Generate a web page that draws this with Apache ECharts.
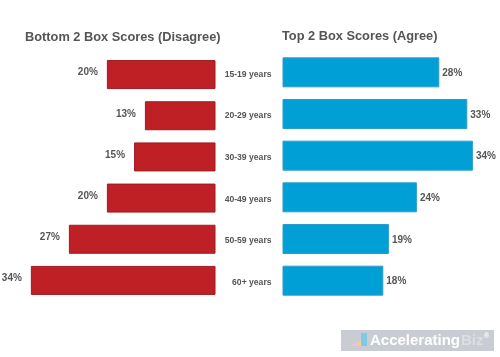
<!DOCTYPE html>
<html>
<head>
<meta charset="utf-8">
<style>
  html, body { margin: 0; padding: 0; background: #fff; }
  #chart { width: 500px; height: 357px; }
</style>
<script src="https://cdn.jsdelivr.net/npm/echarts@6/dist/echarts.min.js"></script>
</head>
<body>
<div id="chart"></div>
<script>
const ageGroups = ['15-19 years', '20-29 years', '30-39 years', '40-49 years', '50-59 years', '60+ years']
const disagree = [20, 13, 15, 20, 27, 34]
const agree = [28, 33, 34, 24, 19, 18]

const font = '"Liberation Sans", Arial, sans-serif'
const textColor = '#555'

const chart = echarts.init(document.getElementById('chart'))

const percentLabel = function (params) {
  return params.value + '%'
}

chart.setOption({
  animation: false,
  backgroundColor: '#fff',
  textStyle: { fontFamily: font },
  title: [
    {
      text: 'Bottom 2 Box Scores (Disagree)',
      left: 20, top: 26,
      textStyle: { fontSize: 12.8, fontWeight: 'bold', color: textColor, fontFamily: font }
    },
    {
      text: 'Top 2 Box Scores (Agree)',
      left: 277, top: 25,
      textStyle: { fontSize: 12.8, fontWeight: 'bold', color: textColor, fontFamily: font }
    }
  ],
  grid: [
    { left: 20, top: 54, width: 195.5, height: 247 },
    { left: 282.5, top: 51.5, width: 201.6, height: 250 },
    // the age labels sit a little lower than the blue bars, so they get their own grid
    { left: 282.5, top: 53.5, width: 201.6, height: 250 }
  ],
  xAxis: [
    { gridIndex: 0, type: 'value', min: 0, max: 36, inverse: true, show: false },
    { gridIndex: 1, type: 'value', min: 0, max: 36, show: false },
    { gridIndex: 2, type: 'value', min: 0, max: 36, show: false }
  ],
  yAxis: [
    {
      gridIndex: 0, type: 'category', data: ageGroups, inverse: true,
      axisLine: { show: false }, axisTick: { show: false }, axisLabel: { show: false }
    },
    {
      gridIndex: 1, type: 'category', data: ageGroups, inverse: true,
      axisLine: { show: false }, axisTick: { show: false }, axisLabel: { show: false }
    },
    {
      gridIndex: 2, type: 'category', data: ageGroups, inverse: true,
      axisLine: { show: false }, axisTick: { show: false },
      axisLabel: {
        margin: 11, fontSize: 8.6, fontWeight: 'bold', color: textColor,
        fontFamily: font, align: 'right'
      }
    }
  ],
  series: [
    {
      type: 'bar', xAxisIndex: 0, yAxisIndex: 0, data: disagree, barWidth: 29,
      itemStyle: { color: '#be2026', borderColor: '#9c1c22', borderWidth: 1 },
      label: {
        show: true, position: 'left', distance: 9, offset: [0, -2],
        formatter: percentLabel, fontSize: 10, fontWeight: 'bold', color: textColor, fontFamily: font
      },
      silent: true
    },
    {
      type: 'bar', xAxisIndex: 1, yAxisIndex: 1, data: agree, barWidth: 30,
      itemStyle: { color: '#00a0d7', borderColor: '#2f9bcb', borderWidth: 1 },
      label: {
        show: true, position: 'right', distance: 3, offset: [0, 1],
        formatter: percentLabel, fontSize: 10, fontWeight: 'bold', color: textColor, fontFamily: font
      },
      silent: true
    }
  ],
  graphic: [
    { type: 'rect', shape: { x: 341, y: 330, width: 153, height: 21 }, style: { fill: '#c9ccd2' }, silent: true },
    { type: 'polygon', shape: { points: [[349, 346], [358, 342], [363, 339], [367, 346]] }, style: { fill: '#f2c6b8' }, silent: true },
    { type: 'polygon', shape: { points: [[358, 346], [362, 340], [366, 340], [366, 346]] }, style: { fill: '#f4d96b' }, silent: true },
    { type: 'rect', shape: { x: 361, y: 333, width: 6, height: 13 }, style: { fill: '#7fc8e8' }, silent: true },
    {
      type: 'text', x: 370, y: 340.5,
      style: { text: 'Accelerating', fill: '#fff', font: 'bold 15px ' + font, verticalAlign: 'middle' },
      silent: true
    },
    {
      type: 'text', x: 461, y: 340.5,
      style: { text: 'Biz', fill: '#dcdee2', font: 'bold 15px ' + font, verticalAlign: 'middle' },
      silent: true
    },
    {
      type: 'text', x: 484, y: 336,
      style: { text: '®', fill: '#fff', font: 'bold 7px ' + font, verticalAlign: 'middle' },
      silent: true
    }
  ]
})
</script>
</body>
</html>
